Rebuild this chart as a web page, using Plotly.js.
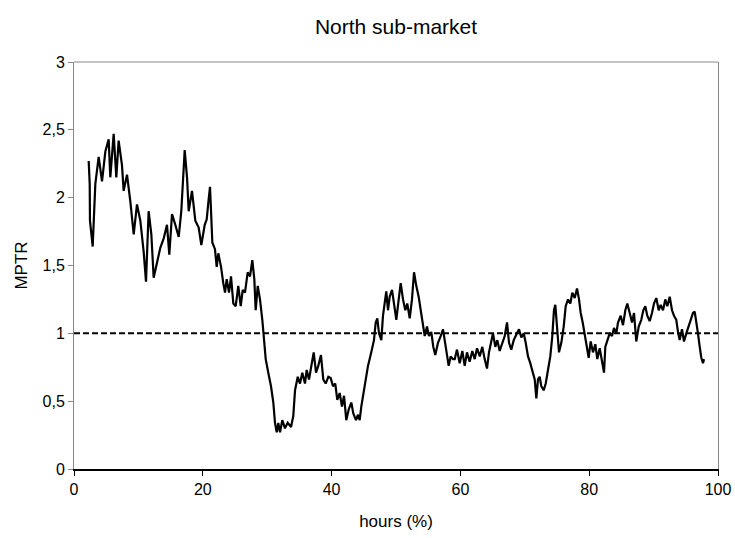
<!DOCTYPE html>
<html>
<head>
<meta charset="utf-8">
<script src="https://cdn.plot.ly/plotly-3.0.1.min.js"></script>
<style>html,body{margin:0;padding:0;background:#fff}#chart{width:735px;height:538px}</style>
</head>
<body>
<div id="chart"></div>
<script>
// hours (%)
var hours = [
2.28,2.44,2.48,2.90,3.31,3.83,4.35,4.87,5.38,5.64,6.16,6.57,6.93,7.45,7.71,8.23,8.75,9.27,9.78,10.30,
10.82,11.18,11.59,12.01,12.37,12.89,13.40,13.93,14.44,14.80,15.22,15.73,16.26,16.66,16.93,17.19,17.55,17.81,18.32,18.84,
19.36,19.77,20.30,20.61,20.85,21.12,21.27,21.48,21.89,22.16,22.41,22.83,23.18,23.45,23.71,24.07,24.38,24.74,25.11,25.51,
25.89,26.20,26.55,26.97,27.33,27.69,28.00,28.21,28.53,28.88,29.24,29.55,29.77,30.17,30.59,30.95,31.21,31.48,31.72,31.99,
32.34,32.76,33.18,33.70,34.05,34.32,34.74,35.09,35.45,35.87,36.13,36.49,36.91,37.22,37.58,37.93,38.35,38.71,39.08,39.49,
39.86,40.22,40.57,40.88,41.26,41.61,41.93,42.28,42.66,43.06,43.37,43.79,44.10,44.36,44.61,45.14,45.65,46.16,46.58,46.85,
47.10,47.36,47.72,47.98,48.25,48.49,48.76,49.02,49.38,49.69,50.05,50.42,50.73,51.09,51.44,51.75,52.13,52.48,52.80,53.15,
53.52,53.84,54.19,54.46,54.81,55.12,55.48,55.79,56.10,56.52,56.94,57.30,57.56,57.81,58.18,58.49,58.85,59.12,59.47,59.89,
60.30,60.67,61.02,61.44,61.85,62.22,62.58,63.00,63.40,63.77,64.13,64.44,64.80,65.06,65.42,65.73,66.10,66.46,66.88,67.24,
67.55,67.90,68.28,68.68,69.10,69.46,69.83,70.14,70.50,70.85,71.16,71.54,71.79,72.05,72.31,72.56,72.93,73.25,73.60,73.96,
74.27,74.53,74.74,75.00,75.31,75.67,76.04,76.35,76.71,77.07,77.38,77.75,78.11,78.42,78.68,78.99,79.30,79.55,79.92,80.23,
80.59,80.95,81.26,81.63,81.99,82.30,82.50,82.81,83.18,83.54,83.85,84.21,84.47,84.89,85.25,85.61,85.92,86.29,86.65,86.96,
87.31,87.69,88.09,88.40,88.71,89.02,89.39,89.75,90.06,90.42,90.79,91.10,91.46,91.82,92.13,92.50,92.86,93.17,93.52,93.79,
94.05,94.41,94.72,95.08,95.45,95.76,96.12,96.38,96.65,96.89,97.16,97.41,97.67,97.83
];
// MPTR
var mptr = [
2.27,2.10,1.83,1.64,2.10,2.30,2.12,2.34,2.43,2.15,2.47,2.15,2.42,2.24,2.05,2.17,1.97,1.73,1.95,1.83,
1.60,1.38,1.90,1.73,1.41,1.51,1.63,1.70,1.80,1.58,1.88,1.80,1.71,1.90,2.10,2.35,2.15,1.90,2.05,1.83,
1.78,1.65,1.80,1.84,1.96,2.08,1.91,1.67,1.62,1.49,1.59,1.49,1.37,1.30,1.40,1.30,1.42,1.22,1.20,1.35,
1.20,1.32,1.30,1.45,1.42,1.54,1.40,1.17,1.35,1.25,1.10,0.93,0.81,0.71,0.61,0.49,0.34,0.27,0.34,0.27,
0.36,0.30,0.34,0.31,0.39,0.58,0.68,0.63,0.71,0.63,0.73,0.66,0.78,0.86,0.71,0.76,0.84,0.66,0.63,0.68,
0.67,0.61,0.63,0.51,0.56,0.46,0.54,0.36,0.44,0.49,0.41,0.36,0.40,0.36,0.46,0.61,0.76,0.86,0.95,1.08,
1.11,1.00,0.95,1.13,1.25,1.31,1.17,1.27,1.32,1.20,1.10,1.25,1.37,1.25,1.17,1.22,1.11,1.25,1.45,1.35,
1.27,1.17,1.08,0.98,1.05,0.98,1.01,0.90,0.84,0.93,0.98,1.03,0.95,0.86,0.76,0.83,0.81,0.81,0.88,0.78,
0.87,0.76,0.86,0.79,0.87,0.81,0.89,0.83,0.90,0.81,0.74,0.86,0.95,1.00,0.90,0.95,0.87,0.93,0.98,1.08,
0.93,0.88,0.95,0.99,1.03,0.97,1.00,0.93,0.83,0.78,0.73,0.66,0.52,0.66,0.68,0.61,0.58,0.63,0.73,0.83,
0.98,1.17,1.21,1.03,0.86,0.93,1.05,1.20,1.25,1.22,1.30,1.26,1.33,1.25,1.15,1.08,0.99,0.90,0.82,0.94,
0.86,0.92,0.81,0.89,0.78,0.71,0.90,0.94,1.00,0.98,1.04,1.00,1.08,1.13,1.06,1.17,1.22,1.15,1.08,1.15,
0.94,1.05,1.10,1.17,1.20,1.13,1.09,1.15,1.22,1.26,1.17,1.21,1.17,1.25,1.20,1.27,1.17,1.13,1.10,1.01,
0.95,1.03,0.94,1.00,1.06,1.10,1.15,1.16,1.05,1.00,0.90,0.82,0.78,0.81
];
// reference level
var refX = [0, 100];
var refY = [1, 1];

var xTicks = [0, 20, 40, 60, 80, 100];
var yTicks = [0, 0.5, 1, 1.5, 2, 2.5, 3];
var yTickText = ["0", "0,5", "1", "1,5", "2", "2,5", "3"];

var font = "'Liberation Sans', Arial, sans-serif";

var traces = [
  {x: refX, y: refY, type: "scatter", mode: "lines",
   line: {color: "#000", width: 2, dash: "6px,3px"}, hoverinfo: "skip"},
  {x: hours, y: mptr, type: "scatter", mode: "lines",
   line: {color: "#000", width: 2.2}}
];

var layout = {
  width: 735, height: 538,
  paper_bgcolor: "#fff", plot_bgcolor: "#fff",
  showlegend: false,
  font: {family: font, color: "#000", size: 16},
  margin: {l: 74, r: 17, t: 62, b: 69, pad: 0},
  title: {text: "North sub-market", font: {family: font, size: 21, color: "#000"},
          x: 0.5, xref: "paper", xanchor: "center", y: 0.95, yref: "container", yanchor: "middle"},
  xaxis: {
    range: [0, 100], tickvals: xTicks, ticktext: xTicks.map(String),
    showgrid: false, zeroline: false, showline: true, linecolor: "#000", linewidth: 1.5,
    ticks: "outside", ticklen: 5, tickwidth: 1, tickcolor: "#000",
    tickfont: {family: font, size: 16, color: "#000"},
    title: {text: "hours (%)", font: {family: font, size: 17, color: "#000"}, standoff: 18},
    automargin: false
  },
  yaxis: {
    range: [0, 3], tickvals: yTicks, ticktext: yTickText,
    showgrid: false, zeroline: false, showline: true, linecolor: "#888", linewidth: 1, mirror: true,
    ticks: "outside", ticklen: 5, tickwidth: 1, tickcolor: "#888",
    tickfont: {family: font, size: 16, color: "#000"},
    title: {text: "MPTR", font: {family: font, size: 17, color: "#000"}, standoff: 10},
    automargin: false
  },
  shapes: [
    {type: "line", xref: "paper", yref: "paper", x0: 0, x1: 1, y0: 1, y1: 1,
     line: {color: "#888", width: 1}}
  ]
};

Plotly.newPlot("chart", traces, layout, {displayModeBar: false, staticPlot: true});
</script>
</body>
</html>
